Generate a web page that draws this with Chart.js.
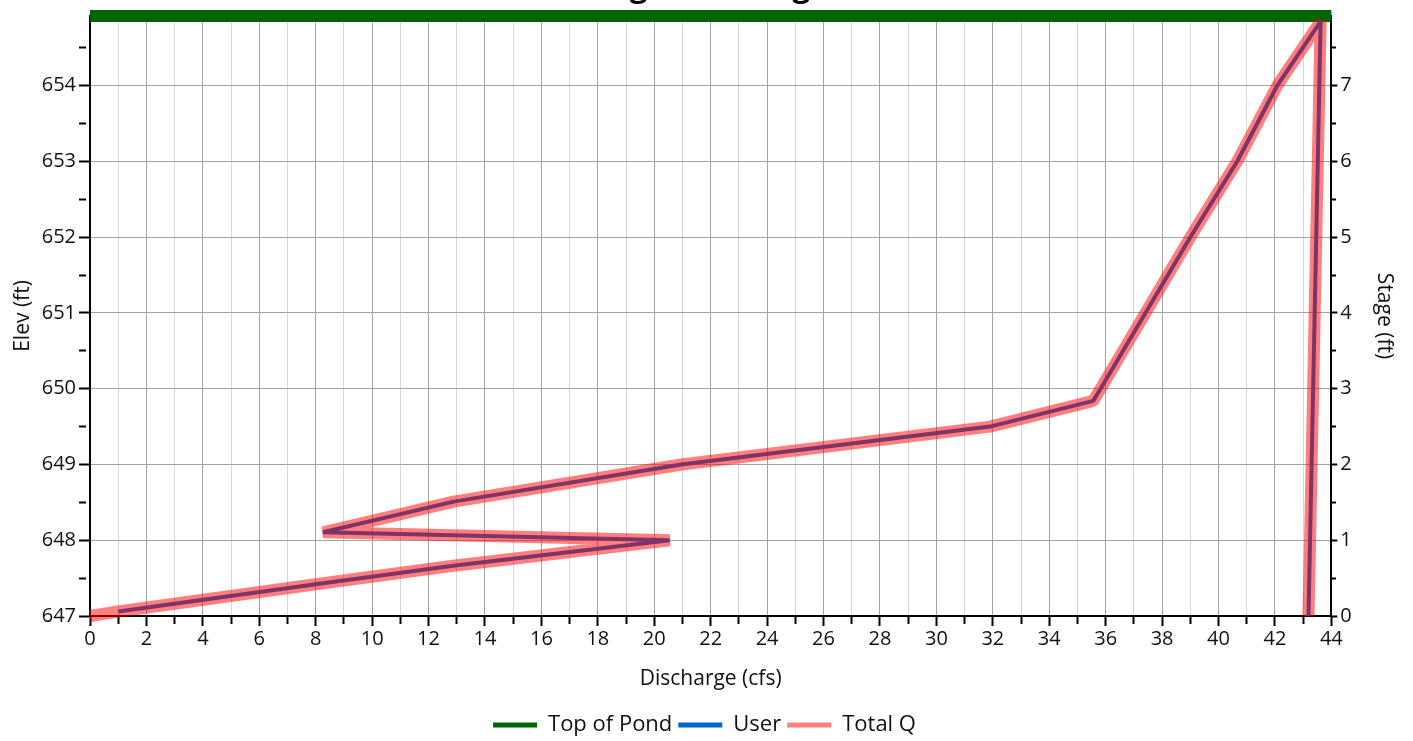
<!DOCTYPE html>
<html>
<head>
<meta charset="utf-8">
<title>Stage-Discharge</title>
<script src="https://cdn.jsdelivr.net/npm/chart.js@4.4.1/dist/chart.umd.min.js"></script>
<style>
  html, body { margin: 0; padding: 0; background: #fff; overflow: hidden; }
  #wrap { position: absolute; left: 0; top: -30px; width: 1413px; height: 776px; }
</style>
</head>
<body>
<div id="wrap"><canvas id="chart"></canvas></div>
<script>
// Pond elevations (ft)
const bottomElev = 647.0;
const topOfPondElev = 654.92;

// Discharge axis range (cfs)
const qMin = 0;
const qMax = 44;

// Top of pond marker line
const pondQ = [0, 44];
const pondElev = [topOfPondElev, topOfPondElev];

// User-defined rating curve
const userQ    = [1.0, 8.0, 12.8, 20.55, 8.26, 12.89, 20.96, 31.9, 35.56, 35.82, 37.41, 39.0, 40.66, 42.08, 43.62, 43.19];
const userElev = [647.06, 647.42, 647.66, 648.0, 648.105, 648.51, 649.0, 649.5, 649.84, 650.0, 651.0, 652.0, 653.0, 654.0, 654.85, 647.0];

// Total outflow
const totalQ    = [0.0, 1.0, 8.0, 12.8, 20.55, 8.26, 12.89, 20.96, 31.9, 35.56, 35.82, 37.41, 39.0, 40.66, 42.08, 43.62, 43.19];
const totalElev = [647.0, 647.06, 647.42, 647.66, 648.0, 648.105, 648.51, 649.0, 649.5, 649.84, 650.0, 651.0, 652.0, 653.0, 654.0, 654.85, 647.0];

const toPoints = (xs, ys) => xs.map((x, i) => ({ x: x, y: ys[i] }));

const FONT = "'Open Sans', 'Noto Sans', sans-serif";
const TXT = '#111';
const MAJOR_GRID = '#a3a3a3';
const MINOR_GRID = '#d6d6d6';

Chart.defaults.font.family = FONT;
Chart.defaults.color = TXT;

const isWhole = v => Math.abs(v - Math.round(v)) < 1e-9;

new Chart(document.getElementById('chart'), {
  type: 'line',
  data: {
    datasets: [
      {
        label: 'Top of Pond',
        data: toPoints(pondQ, pondElev),
        borderColor: '#006400',
        backgroundColor: '#006400',
        borderWidth: 12,
        pointRadius: 0,
        clip: false,
        order: 3
      },
      {
        label: 'User',
        data: toPoints(userQ, userElev),
        borderColor: '#0066cc',
        backgroundColor: '#0066cc',
        borderWidth: 4,
        pointRadius: 0,
        clip: false,
        order: 2
      },
      {
        label: 'Total Q',
        data: toPoints(totalQ, totalElev),
        borderColor: 'rgba(255,0,0,0.5)',
        backgroundColor: 'rgba(255,0,0,0.5)',
        borderWidth: 12,
        pointRadius: 0,
        clip: false,
        order: 1
      }
    ]
  },
  options: {
    responsive: true,
    maintainAspectRatio: false,
    animation: false,
    events: [],
    layout: { padding: { left: 10, right: 14, top: 0, bottom: 0 } },
    elements: { line: { tension: 0, fill: false, borderJoinStyle: 'bevel' } },
    scales: {
      x: {
        type: 'linear',
        position: 'bottom',
        min: qMin,
        max: qMax,
        border: { display: true, color: '#000', width: 2 },
        grid: {
          color: ctx => (ctx.tick && ctx.tick.value % 2 === 0) ? MAJOR_GRID : MINOR_GRID,
          lineWidth: 1,
          tickLength: 10,
          tickWidth: 2,
          tickColor: '#000',
          tickBorderDash: ctx => (ctx.tick && ctx.tick.value % 2 === 0) ? [] : [7, 40]
        },
        ticks: {
          stepSize: 1,
          autoSkip: false,
          maxRotation: 0,
          padding: 1,
          font: { size: 20 },
          callback: v => (v % 2 === 0 ? String(v) : '')
        },
        title: { display: true, text: 'Discharge (cfs)', font: { size: 21 }, padding: { top: 14, bottom: 16.8 } }
      },
      y: {
        type: 'linear',
        position: 'left',
        min: bottomElev,
        max: topOfPondElev,
        border: { display: true, color: '#000', width: 2 },
        grid: {
          color: ctx => (ctx.tick && isWhole(ctx.tick.value)) ? MAJOR_GRID : 'rgba(0,0,0,0)',
          lineWidth: 1,
          tickLength: 11,
          tickWidth: 2,
          tickColor: '#000',
          tickBorderDash: ctx => (ctx.tick && isWhole(ctx.tick.value)) ? [] : [7, 40]
        },
        ticks: {
          stepSize: 0.5,
          includeBounds: false,
          autoSkip: false,
          padding: 3,
          font: { size: 20 },
          callback: v => (isWhole(v) ? String(Math.round(v)) : '')
        },
        title: { display: true, text: 'Elev (ft)', font: { size: 21 }, padding: { top: 0, bottom: 3.5 } }
      },
      y2: {
        type: 'linear',
        position: 'right',
        min: 0,
        max: topOfPondElev - bottomElev,
        border: { display: true, color: '#000', width: 2 },
        grid: {
          drawOnChartArea: false,
          tickLength: 6,
          tickWidth: 2,
          tickColor: '#000',
          tickBorderDash: ctx => (ctx.tick && isWhole(ctx.tick.value)) ? [] : [4, 40]
        },
        ticks: {
          stepSize: 0.5,
          includeBounds: false,
          autoSkip: false,
          padding: 3,
          font: { size: 20 },
          callback: v => (isWhole(v) ? String(Math.round(v)) : '')
        },
        title: { display: true, text: 'Stage (ft)', font: { size: 21 }, padding: { top: 2, bottom: 17 } }
      }
    },
    plugins: {
      title: {
        display: true,
        text: 'Stage-Discharge',
        color: '#000',
        font: { size: 31, weight: 'bold' },
        padding: { top: 0, bottom: 8.8 }
      },
      legend: {
        position: 'bottom',
        labels: {
          font: { size: 22 },
          boxWidth: 44,
          boxHeight: 5,
          padding: 6,
          color: TXT,
          sort: (a, b) => a.datasetIndex - b.datasetIndex,
          generateLabels: c => {
            const items = Chart.defaults.plugins.legend.labels.generateLabels(c);
            items.forEach(it => { it.fillStyle = it.strokeStyle; it.lineWidth = 0; });
            return items;
          }
        }
      },
      tooltip: { enabled: false }
    }
  }
});
</script>
</body>
</html>
